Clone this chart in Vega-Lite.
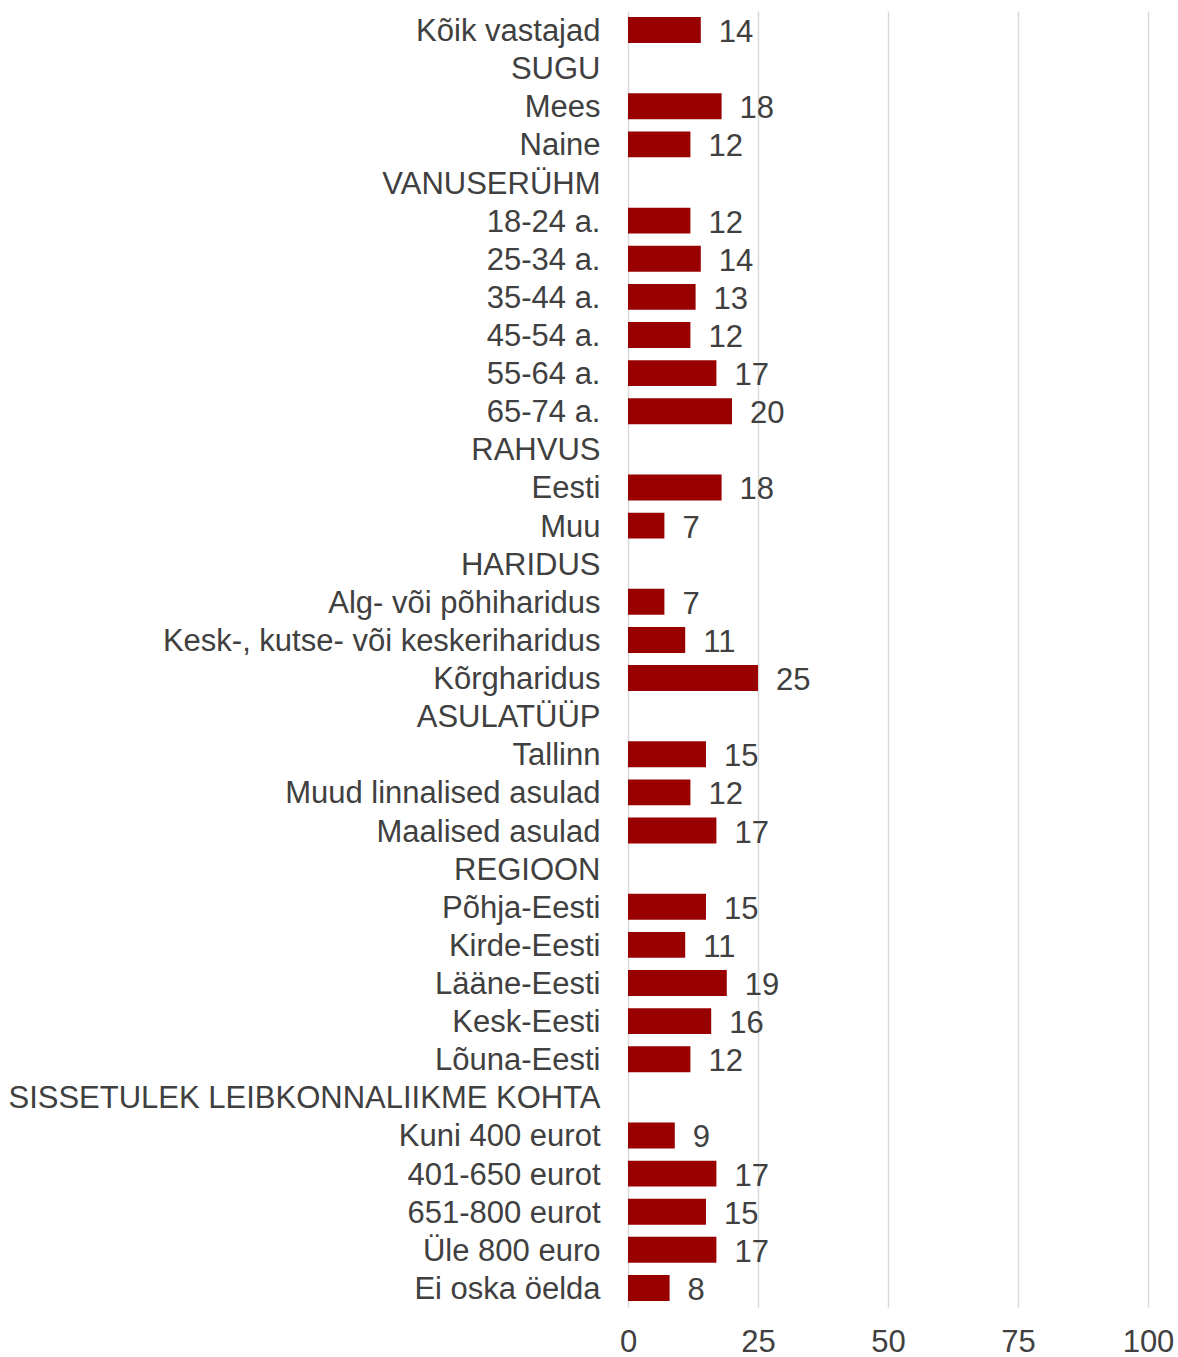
{
  "$schema": "https://vega.github.io/schema/vega-lite/v6.json",
  "autosize": {"type": "none"},
  "padding": {"left": 628, "top": 11, "right": 30, "bottom": 50},
  "width": 520,
  "height": 1296,
  "background": "white",
  "data": {"values": [
    {"k": "Kõik vastajad", "v": 14},
    {"k": "SUGU", "v": null},
    {"k": "Mees", "v": 18},
    {"k": "Naine", "v": 12},
    {"k": "VANUSERÜHM", "v": null},
    {"k": "18-24 a.", "v": 12},
    {"k": "25-34 a.", "v": 14},
    {"k": "35-44 a.", "v": 13},
    {"k": "45-54 a.", "v": 12},
    {"k": "55-64 a.", "v": 17},
    {"k": "65-74 a.", "v": 20},
    {"k": "RAHVUS", "v": null},
    {"k": "Eesti", "v": 18},
    {"k": "Muu", "v": 7},
    {"k": "HARIDUS", "v": null},
    {"k": "Alg- või põhiharidus", "v": 7},
    {"k": "Kesk-, kutse- või keskeriharidus", "v": 11},
    {"k": "Kõrgharidus", "v": 25},
    {"k": "ASULATÜÜP", "v": null},
    {"k": "Tallinn", "v": 15},
    {"k": "Muud linnalised asulad", "v": 12},
    {"k": "Maalised asulad", "v": 17},
    {"k": "REGIOON", "v": null},
    {"k": "Põhja-Eesti", "v": 15},
    {"k": "Kirde-Eesti", "v": 11},
    {"k": "Lääne-Eesti", "v": 19},
    {"k": "Kesk-Eesti", "v": 16},
    {"k": "Lõuna-Eesti", "v": 12},
    {"k": "SISSETULEK LEIBKONNALIIKME KOHTA", "v": null},
    {"k": "Kuni 400 eurot", "v": 9},
    {"k": "401-650 eurot", "v": 17},
    {"k": "651-800 eurot", "v": 15},
    {"k": "Üle 800 euro", "v": 17},
    {"k": "Ei oska öelda", "v": 8}
  ]},
  "encoding": {
    "y": {
      "field": "k", "type": "nominal", "sort": null, "title": null,
      "scale": {
        "domain": ["Kõik vastajad", "SUGU", "Mees", "Naine", "VANUSERÜHM", "18-24 a.", "25-34 a.", "35-44 a.", "45-54 a.", "55-64 a.", "65-74 a.", "RAHVUS", "Eesti", "Muu", "HARIDUS", "Alg- või põhiharidus", "Kesk-, kutse- või keskeriharidus", "Kõrgharidus", "ASULATÜÜP", "Tallinn", "Muud linnalised asulad", "Maalised asulad", "REGIOON", "Põhja-Eesti", "Kirde-Eesti", "Lääne-Eesti", "Kesk-Eesti", "Lõuna-Eesti", "SISSETULEK LEIBKONNALIIKME KOHTA", "Kuni 400 eurot", "401-650 eurot", "651-800 eurot", "Üle 800 euro", "Ei oska öelda"],
        "paddingInner": 0.32, "paddingOuter": 0.16
      },
      "axis": {
        "domain": false, "ticks": false, "grid": false,
        "labelFont": "Liberation Sans", "labelFontSize": 31, "labelColor": "#404040",
        "labelPadding": 28, "labelLimit": 700, "labelOffset": 2
      }
    },
    "x": {
      "field": "v", "type": "quantitative", "title": null,
      "scale": {"domain": [0, 100], "nice": false},
      "axis": {
        "values": [0, 25, 50, 75, 100], "domain": false, "ticks": false,
        "grid": true, "gridColor": "#d9d9d9", "gridWidth": 1.5,
        "labelFont": "Liberation Sans", "labelFontSize": 31, "labelColor": "#404040",
        "labelPadding": 20, "labelFlush": false
      }
    }
  },
  "layer": [
    {"mark": {"type": "bar", "color": "#990000"}},
    {
      "mark": {"type": "text", "align": "left", "baseline": "middle", "dx": 18, "dy": 3,
               "font": "Liberation Sans", "fontSize": 31, "color": "#404040"},
      "encoding": {"text": {"field": "v", "type": "quantitative"}}
    }
  ],
  "config": {"view": {"stroke": null}}
}
